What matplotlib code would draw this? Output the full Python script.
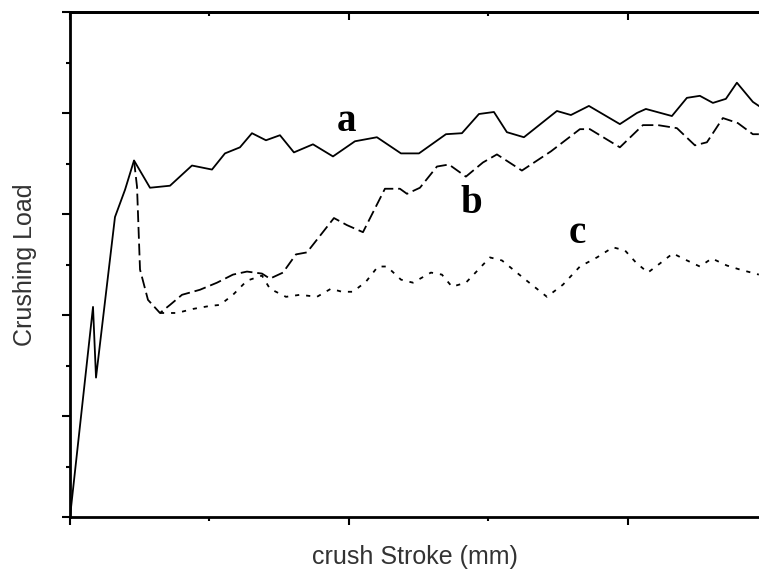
import matplotlib
matplotlib.use("Agg")
import matplotlib.pyplot as plt
from matplotlib.ticker import MultipleLocator

# curve a: full load-stroke history (solid)
a_x = [0, 3.30, 3.73, 6.45, 7.89, 9.18, 11.47, 14.34, 17.49, 20.36, 22.22, 24.37, 26.09,
       28.10, 30.11, 32.11, 34.84, 37.71, 40.86, 44.01, 47.46, 50.04, 53.91, 56.20, 58.64,
       60.79, 62.65, 65.09, 69.82, 71.83, 74.41, 78.85, 81.29, 82.58, 86.31, 88.46, 90.32,
       92.19, 94.05, 95.63, 97.92, 98.78]
a_y = [0, 20.8, 13.8, 29.7, 32.4, 35.3, 32.6, 32.8, 34.8, 34.4, 36.0, 36.6, 38.0,
       37.3, 37.8, 36.1, 36.9, 35.7, 37.2, 37.6, 36.0, 36.0, 37.9, 38.0, 39.9,
       40.1, 38.1, 37.6, 40.2, 39.8, 40.7, 38.9, 40.0, 40.4, 39.7, 41.5, 41.7,
       41.0, 41.4, 43.0, 41.1, 40.7]

# curve b: from the first peak on (dashed)
b_x = [9.18, 9.61, 10.04, 11.18, 12.90, 14.34, 16.06, 18.64, 21.08, 23.37, 25.38, 27.53,
       28.67, 30.54, 32.40, 33.98, 37.85, 39.71, 42.01, 45.16, 47.31, 48.32, 50.18, 52.62,
       54.34, 56.77, 59.21, 61.22, 64.80, 68.96, 73.12, 74.55, 78.85, 82.15, 84.30, 87.03,
       89.61, 91.33, 93.62, 95.77, 97.92, 98.78]
b_y = [35.3, 32.7, 24.5, 21.5, 20.2, 21.0, 22.0, 22.5, 23.2, 24.0, 24.3, 24.1,
       23.6, 24.2, 26.0, 26.2, 29.6, 28.9, 28.2, 32.5, 32.5, 32.0, 32.6, 34.7,
       34.9, 33.7, 35.1, 35.9, 34.3, 36.2, 38.4, 38.4, 36.6, 38.8, 38.8, 38.5,
       36.8, 37.1, 39.5, 39.0, 37.9, 37.9]

# curve c: from the valley on (dotted)
c_x = [12.90, 15.34, 17.63, 20.07, 21.51, 23.37, 25.38, 27.53, 28.67, 30.97, 32.98, 35.41,
       37.42, 39.00, 40.57, 42.44, 44.16, 45.45, 47.46, 49.18, 51.76, 53.33, 54.77, 56.77,
       60.22, 61.94, 64.95, 68.39, 70.68, 73.12, 75.56, 77.85, 79.57, 81.15, 82.87, 84.59,
       86.45, 88.17, 90.32, 92.04, 94.19, 96.06, 98.78]
c_y = [20.2, 20.2, 20.6, 20.9, 21.0, 22.0, 23.4, 23.9, 22.6, 21.8, 22.0, 21.8,
       22.6, 22.3, 22.3, 23.3, 24.8, 24.8, 23.5, 23.2, 24.2, 24.0, 22.8, 23.2,
       25.7, 25.4, 23.7, 21.8, 23.0, 24.8, 25.7, 26.7, 26.4, 25.2, 24.2, 25.1,
       26.1, 25.5, 24.8, 25.6, 24.9, 24.5, 24.0]

labels = ["a", "b", "c"]
label_x = [39.7, 57.6, 72.8]
label_y = [38.2, 30.1, 27.1]

plt.rcParams["lines.scale_dashes"] = False

fig = plt.figure(figsize=(7.59, 5.69), dpi=100)
ax = fig.add_axes([70 / 759, 52 / 569, 689 / 759, 505 / 569])

ax.plot(c_x, c_y, color="black", lw=1.3, dashes=(3, 5))
ax.plot(b_x, b_y, color="black", lw=1.3, dashes=(8.5, 3.5))
ax.plot(a_x, a_y, color="black", lw=1.3)

for t, x, y in zip(labels, label_x, label_y):
    ax.text(x, y, t, family="Liberation Serif", weight="bold", fontsize=28,
            ha="center", va="baseline")

ax.set_xlim(0, 98.8)
ax.set_ylim(0, 50)
ax.xaxis.set_major_locator(MultipleLocator(40))
ax.xaxis.set_minor_locator(MultipleLocator(20))
ax.yaxis.set_major_locator(MultipleLocator(10))
ax.yaxis.set_minor_locator(MultipleLocator(5))
ax.tick_params(which="both", labelbottom=False, labelleft=False, width=1.5,
               direction="out")
ax.tick_params(which="major", length=6)
ax.tick_params(which="minor", length=3)
ax.spines["right"].set_visible(False)
for s in ["left", "bottom", "top"]:
    ax.spines[s].set_linewidth(2)

# top axis ticks point into the plot
top = ax.secondary_xaxis("top")
top.xaxis.set_major_locator(MultipleLocator(40))
top.xaxis.set_minor_locator(MultipleLocator(20))
top.tick_params(which="both", direction="in", labeltop=False, width=1.5)
top.tick_params(which="major", length=6)
top.tick_params(which="minor", length=3)
top.spines["top"].set_linewidth(2)

ax.set_xlabel("crush Stroke (mm)", family="Liberation Sans", fontsize=18,
              color="#333333", labelpad=14)
ax.set_ylabel("Crushing Load", family="Liberation Sans", fontsize=18,
              color="#333333", labelpad=18)

fig.savefig("out.png", dpi=100)
